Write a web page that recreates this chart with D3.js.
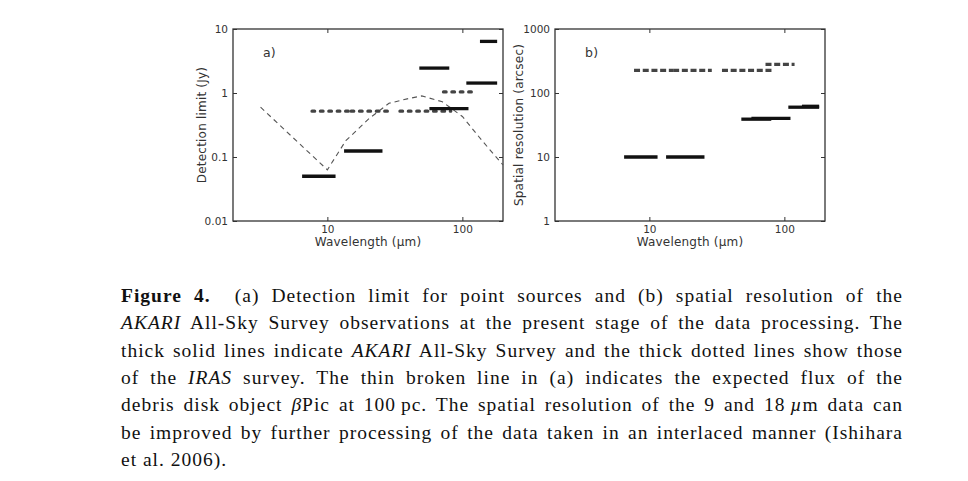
<!DOCTYPE html>
<html lang="en">
  <head>
    <meta charset="UTF-8" />
    <title>AKARI detection limit and resolution</title>
    <style>
      body { margin: 0; background: #fff; }
      .tick text { font-family: "DejaVu Sans", sans-serif; font-size: 10.5px; fill: #333; }
      .lab { font-family: "DejaVu Sans", sans-serif; font-size: 12px; letter-spacing: 0.2px; fill: #333; }
      .cap { font-family: "Liberation Serif", serif; font-size: 19.5px; letter-spacing: 1px; fill: #111; }
    </style>
  </head>
  <body>
  <script src="https://d3js.org/d3.v7.min.js"></script>
  <script>

var w = 968;
var h = 481;

// AKARI bands (thick solid lines)
var akariLo    = [6.5, 13.3, 48, 57, 107, 135];
var akariHi    = [11.5, 25.6, 80, 111, 181, 181];
var akariLimit = [0.05, 0.124, 2.45, 0.57, 1.43, 6.4];   // Jy
var akariRes   = [10, 10, 39, 40, 60, 62];               // arcsec

// IRAS bands (thick dotted lines)
var irasLo    = [7.7, 15, 34.5, 72.5];
var irasHi    = [15, 29, 82, 119];
var irasLimit = [0.52, 0.52, 0.52, 1.04];
var irasRes   = [225, 225, 225, 280];

// expected flux of beta Pic at 100 pc (thin broken line)
var betaWave = [3.2, 10, 13.7, 20.4, 28.6, 39, 50, 71, 100, 140, 200];
var betaFlux = [0.6, 0.063, 0.18, 0.40, 0.69, 0.81, 0.9, 0.73, 0.43, 0.18, 0.075];

var xTicks = [10, 100];
var yTicksA = [0.01, 0.1, 1, 10];
var yTicksB = [1, 10, 100, 1000];

var svg = d3.select("body").append("svg")
            .attr("width", w)
            .attr("height", h);

function panel(left, yDomain, yTicks, yFmt, ylabel, labOff, tag) {
  var x = d3.scaleLog().domain([2, 200]).range([left, left + 270]);
  var y = d3.scaleLog().domain(yDomain).range([221, 29]);
  var g = svg.append("g");

  g.append("g").attr("transform", "translate(0,221)")
    .call(d3.axisBottom(x).tickValues(xTicks).tickFormat(d3.format("d"))
          .tickSizeInner(-4).tickSizeOuter(0).tickPadding(5));
  g.append("g").attr("transform", "translate(0,29)")
    .call(d3.axisTop(x).tickValues(xTicks).tickFormat("")
          .tickSizeInner(-4).tickSizeOuter(0));
  g.append("g").attr("transform", "translate(" + left + ",0)")
    .call(d3.axisLeft(y).tickValues(yTicks).tickFormat(yFmt)
          .tickSizeInner(-4).tickSizeOuter(0).tickPadding(5));
  g.append("g").attr("transform", "translate(" + (left + 270) + ",0)")
    .call(d3.axisRight(y).tickValues(yTicks).tickFormat("")
          .tickSizeInner(-4).tickSizeOuter(0));
  g.selectAll(".domain").remove();
  g.selectAll(".tick line").attr("stroke", "#333");

  g.append("rect")
    .attr("x", left).attr("y", 29)
    .attr("width", 270).attr("height", 192)
    .attr("fill", "none").attr("stroke", "#333").attr("stroke-width", 1.3);

  g.append("text").attr("class", "lab")
    .attr("text-anchor", "middle")
    .attr("x", left + 135).attr("y", 246)
    .text("Wavelength (\u00b5m)");

  g.append("text").attr("class", "lab")
    .attr("text-anchor", "middle")
    .attr("transform", "translate(" + (left - labOff) + ",125) rotate(-90)")
    .text(ylabel);

  g.append("text").attr("class", "lab")
    .attr("x", left + 30).attr("y", 57)
    .style("font-size", "12.5px")
    .text(tag);

  return { g: g, x: x, y: y };
}

function bands(p, lo, hi, vals, color, width, dash, cap) {
  p.g.selectAll(null)
    .data(vals)
    .enter()
    .append("line")
    .attr("x1", function(d, i) { return p.x(lo[i]); })
    .attr("x2", function(d, i) { return p.x(hi[i]); })
    .attr("y1", function(d) { return p.y(d); })
    .attr("y2", function(d) { return p.y(d); })
    .attr("stroke", color)
    .attr("stroke-width", width)
    .attr("stroke-dasharray", dash)
    .attr("stroke-linecap", cap);
}

var pa = panel(233, [0.01, 10], yTicksA, d3.format("~g"), "Detection limit (Jy)", 27, "a)");
var pb = panel(555, [1, 1000], yTicksB, d3.format("d"), "Spatial resolution (arcsec)", 32, "b)");

// beta Pic curve
var line = d3.line()
  .x(function(d, i) { return pa.x(betaWave[i]); })
  .y(function(d) { return pa.y(d); });
pa.g.append("path")
  .attr("d", line(betaFlux))
  .attr("fill", "none")
  .attr("stroke", "#555")
  .attr("stroke-width", 1.1)
  .attr("stroke-dasharray", "5,4");

bands(pa, irasLo, irasHi, irasLimit, "#444", 3.3, "2.6,5.8", "round");
bands(pa, akariLo, akariHi, akariLimit, "#111", 3.3, null, "butt");
bands(pb, irasLo, irasHi, irasRes, "#444", 3.3, "6,2.7", "butt");
bands(pb, akariLo, akariHi, akariRes, "#111", 3.3, null, "butt");

// caption
var capLines = [
  [["b", "Figure 4."], ["r", "  (a) Detection limit for point sources and (b) spatial resolution of the"]],
  [["i", "AKARI"], ["r", " All-Sky Survey observations at the present stage of the data processing. The"]],
  [["r", "thick solid lines indicate "], ["i", "AKARI"], ["r", " All-Sky Survey and the thick dotted lines show those"]],
  [["r", "of the "], ["i", "IRAS"], ["r", " survey. The thin broken line in (a) indicates the expected flux of the"]],
  [["r", "debris disk object "], ["i", "\u03b2"], ["r", "Pic at 100\u2009pc. The spatial resolution of the 9 and 18\u2009"], ["i", "\u00b5"], ["r", "m data can"]],
  [["r", "be improved by further processing of the data taken in an interlaced manner (Ishihara"]],
  [["r", "et al. 2006)."]]
];

var capLeft = 121, capRight = 903;

capLines.forEach(function(parts, k) {
  var t = svg.append("text").attr("class", "cap")
    .attr("x", capLeft).attr("y", 302 + k * 27.3)
    .attr("xml:space", "preserve");
  parts.forEach(function(p) {
    t.append("tspan")
      .style("font-weight", p[0] == "b" ? "bold" : null)
      .style("font-style", p[0] == "i" ? "italic" : null)
      .text(p[1]);
  });
  if (k < capLines.length - 1) {
    var str = parts.map(function(p) { return p[1]; }).join("");
    var gaps = str.split(" ").length - 1;
    var extra = (capRight - capLeft - t.node().getComputedTextLength()) / gaps;
    t.attr("word-spacing", extra);
  }
});

  </script>
  </body>
</html>
